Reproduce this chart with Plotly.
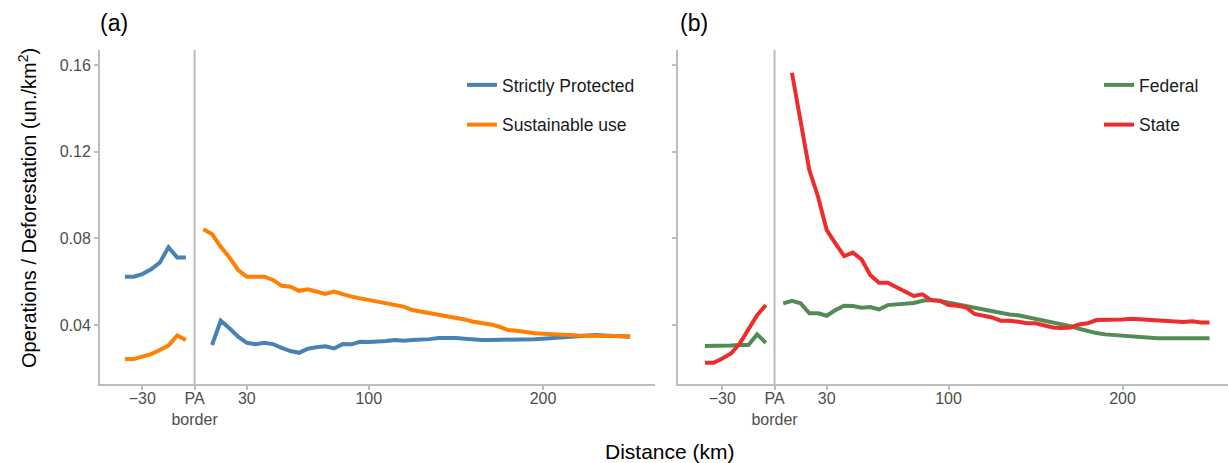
import plotly.graph_objects as go

# ---------------- data ----------------
dist_in = [-40, -35, -30, -25, -20, -15, -10, -5]
dist_out5 = list(range(5, 255, 5))     # 5 .. 250
dist_out10 = list(range(10, 255, 5))   # 10 .. 250

strict_in = [0.0623, 0.0623, 0.0635, 0.0657, 0.0688, 0.0759, 0.0712, 0.0712]
strict_out = [0.0308, 0.0420, 0.0385, 0.0346, 0.0318, 0.0312, 0.0318, 0.0312, 0.0295, 0.0280,
              0.0272, 0.0291, 0.0298, 0.0302, 0.0292, 0.0312, 0.0311, 0.0323, 0.0322, 0.0322,
              0.0326, 0.0331, 0.0328, 0.0331, 0.0332, 0.0335, 0.0340, 0.0341, 0.0340, 0.0337,
              0.0332, 0.0331, 0.0331, 0.0331, 0.0334, 0.0335, 0.0335, 0.0335, 0.0337, 0.0340,
              0.0343, 0.0346, 0.0351, 0.0354, 0.0354, 0.0352, 0.0351, 0.0349, 0.0346]

sustain_in = [0.0243, 0.0243, 0.0254, 0.0266, 0.0285, 0.0305, 0.0352, 0.0331]
sustain_out = [0.0842, 0.0820, 0.0761, 0.0712, 0.0654, 0.0623, 0.0623, 0.0623, 0.0608, 0.0581,
               0.0577, 0.0558, 0.0565, 0.0554, 0.0543, 0.0554, 0.0542, 0.0531, 0.0523, 0.0515,
               0.0509, 0.0503, 0.0494, 0.0485, 0.0469, 0.0462, 0.0454, 0.0451, 0.0442, 0.0435,
               0.0426, 0.0415, 0.0411, 0.0403, 0.0392, 0.0377, 0.0374, 0.0366, 0.0362, 0.0360,
               0.0357, 0.0355, 0.0354, 0.0352, 0.0351, 0.0351, 0.0349, 0.0349, 0.0349, 0.0348]

federal_in = [0.0303, 0.0303, 0.0305, 0.0306, 0.0308, 0.0308, 0.0357, 0.0318]
federal_out = [0.0500, 0.0512, 0.0500, 0.0454, 0.0454, 0.0443, 0.0469, 0.0489, 0.0488, 0.0480,
               0.0483, 0.0472, 0.0492, 0.0495, 0.0500, 0.0502, 0.0512, 0.0515, 0.0511, 0.0503,
               0.0495, 0.0488, 0.0482, 0.0475, 0.0466, 0.0457, 0.0449, 0.0445, 0.0437, 0.0429,
               0.0422, 0.0414, 0.0405, 0.0395, 0.0383, 0.0372, 0.0363, 0.0357, 0.0354, 0.0349,
               0.0345, 0.0343, 0.0341, 0.0339, 0.0339, 0.0339, 0.0339, 0.0339, 0.0339, 0.0339]

state_in = [0.0226, 0.0226, 0.0246, 0.0269, 0.0315, 0.0380, 0.0446, 0.0492]
state_out = [0.1564, 0.1346, 0.1115, 0.0992, 0.0838, 0.0777, 0.0718, 0.0734, 0.0703, 0.0631,
             0.0595, 0.0595, 0.0574, 0.0551, 0.0534, 0.0542, 0.0515, 0.0512, 0.0492, 0.0489,
             0.0482, 0.0451, 0.0445, 0.0435, 0.0420, 0.0420, 0.0415, 0.0408, 0.0408, 0.0397,
             0.0389, 0.0386, 0.0389, 0.0403, 0.0408, 0.0423, 0.0423, 0.0423, 0.0426, 0.0429,
             0.0426, 0.0423, 0.0422, 0.0420, 0.0418, 0.0414, 0.0417, 0.0412, 0.0412]

tick_vals = [-30, 0, 30, 100, 200]
tick_text = ["\u221230", "PA<br>border", "30", "100", "200"]
y_ticks = [0.04, 0.08, 0.12, 0.16]
y_tick_text = ["0.04", "0.08", "0.12", "0.16"]

colors = {"Strictly Protected": "#4682B4", "Sustainable use": "#FF7F00",
          "Federal": "#548B54", "State": "#EE2C2C"}

FONT = "Liberation Sans, Arial, Helvetica, sans-serif"
GREY = "#BDBDBD"

fig = go.Figure()


def add_series(name, xin, yin, xout, yout, xaxis, yaxis, legend):
    fig.add_trace(go.Scatter(
        x=xin + [None] + xout, y=yin + [None] + yout,
        mode="lines", name=name, legendgroup=name, legend=legend,
        line=dict(color=colors[name], width=4), connectgaps=False,
        xaxis=xaxis, yaxis=yaxis))


add_series("Strictly Protected", dist_in, strict_in, dist_out10, strict_out, "x", "y", "legend")
add_series("Sustainable use", dist_in, sustain_in, dist_out5, sustain_out, "x", "y", "legend")
add_series("Federal", dist_in, federal_in, dist_out5, federal_out, "x2", "y2", "legend2")
add_series("State", dist_in, state_in, dist_out10, state_out, "x2", "y2", "legend2")

W, H = 1228, 463
ml, mr, mt, mb = 100, 0, 50, 79
pw = W - ml - mr
ph = H - mt - mb

yr = [0.0128, 0.1669]
axis_common = dict(showgrid=False, zeroline=False, showline=True, linecolor=GREY, linewidth=2,
                   ticks="outside", ticklen=4, tickcolor=GREY, tickwidth=1.5,
                   tickfont=dict(family=FONT, size=16, color="#4D4D4D"))

legend_common = dict(xanchor="left", yanchor="top", bgcolor="rgba(0,0,0,0)",
                     font=dict(family=FONT, size=17.5, color="#1A1A1A"),
                     tracegroupgap=14, traceorder="grouped")

fig.update_layout(
    width=W, height=H, margin=dict(l=ml, r=mr, t=mt, b=mb),
    paper_bgcolor="white", plot_bgcolor="white",
    font=dict(family=FONT),
    xaxis=dict(domain=[0, (655.4 - ml) / pw], range=[-54.3, 264.5], ticklabelstandoff=-5,
               tickvals=tick_vals, ticktext=tick_text, **axis_common),
    xaxis2=dict(domain=[(678.3 - ml) / pw, 1], range=[-55.3, 260.6], anchor="y2",
                ticklabelstandoff=-5, tickvals=tick_vals, ticktext=tick_text, **axis_common),
    yaxis=dict(range=yr, tickvals=y_ticks, ticktext=y_tick_text, **axis_common),
    yaxis2=dict(range=yr, tickvals=y_ticks, showticklabels=False, anchor="x2",
                **axis_common),
    legend=dict(x=(462 - ml) / pw, y=1 - (67 - mt) / ph, **legend_common),
    legend2=dict(x=(1099 - ml) / pw, y=1 - (67 - mt) / ph, **legend_common),
    showlegend=True,
)

# PA border lines
for xr, yref in (("x", "y domain"), ("x2", "y2 domain")):
    fig.add_shape(type="line", xref=xr, yref=yref, x0=0, x1=0, y0=0, y1=1,
                  line=dict(color=GREY, width=2), layer="below")

# titles / labels
fig.add_annotation(text="Operations / Deforestation (un./km<sup>2</sup>)", xref="paper", yref="paper",
                   x=(27 - ml) / pw, y=1 - (208 - mt) / ph, xanchor="center", yanchor="middle",
                   textangle=-90, showarrow=False, font=dict(family=FONT, size=20, color="black"))
fig.add_annotation(text="Distance (km)", xref="paper", yref="paper",
                   x=(670 - ml) / pw, y=-(451 - (H - mb)) / ph, xanchor="center",
                   yanchor="middle", showarrow=False, font=dict(family=FONT, size=21, color="black"))
for lab, px in (("(a)", 98), ("(b)", 678)):
    fig.add_annotation(text=lab, xref="paper", yref="paper", x=(px - ml) / pw,
                       y=1 + (mt - 23) / ph, xanchor="left", yanchor="middle",
                       showarrow=False, font=dict(family=FONT, size=23, color="black"))

fig.write_html("out.html", config={"displayModeBar": False},
               post_script="document.body.style.margin='0';")
